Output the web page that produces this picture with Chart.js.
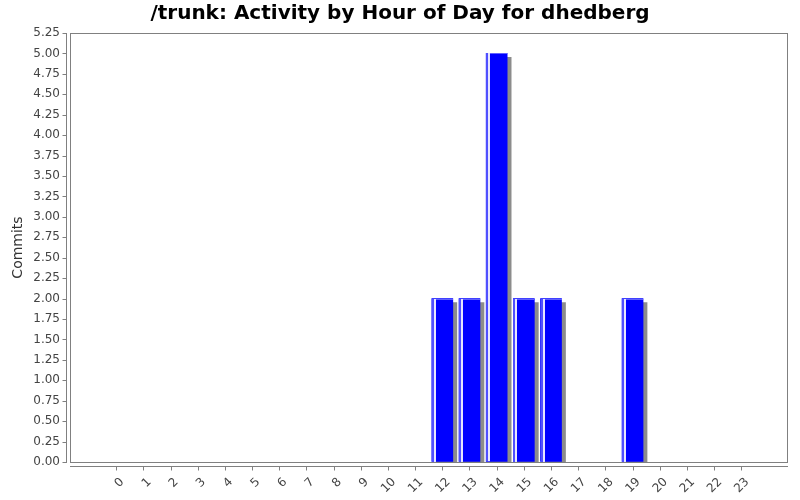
<!DOCTYPE html>
<html><head><meta charset="utf-8">
<script src="https://cdn.jsdelivr.net/npm/chart.js@4/dist/chart.umd.min.js"></script>
<style>html,body{margin:0;padding:0;background:#fff}canvas{display:block}</style>
</head><body>
<canvas id="c" width="800" height="500"></canvas>
<script>
const titleText = '/trunk: Activity by Hour of Day for dhedberg';
const yAxisTitle = 'Commits';
const hours = [0,1,2,3,4,5,6,7,8,9,10,11,12,13,14,15,16,17,18,19,20,21,22,23];
const commits = [0,0,0,0,0,0,0,0,0,0,0,0,2,2,5,2,2,0,0,2,0,0,0,0];
const yTickLabels = ['0.00','0.25','0.50','0.75','1.00','1.25','1.50','1.75','2.00','2.25','2.50','2.75','3.00','3.25','3.50','3.75','4.00','4.25','4.50','4.75','5.00','5.25'];

const AXIS = '#808080';
const LABEL = '#444444';
const FONT = "'DejaVu Sans', sans-serif";

const decor = {
  id: 'decor',
  beforeDatasetsDraw(chart) {
    const ctx = chart.ctx;
    ctx.save();
    ctx.shadowColor = 'rgb(140,140,140)';
    ctx.shadowOffsetX = 4;
    ctx.shadowOffsetY = 4;
    ctx.shadowBlur = 0;
  },
  afterDatasetsDraw(chart) {
    const ctx = chart.ctx;
    ctx.restore();
    const a = chart.chartArea;
    ctx.save();
    ctx.beginPath();
    ctx.rect(a.left, a.top, a.right - a.left, a.bottom - a.top);
    ctx.clip();
    const meta = chart.getDatasetMeta(0);
    meta.data.forEach((el, i) => {
      if (!commits[i]) return;
      const p = el.getProps(['x', 'y', 'base', 'width'], true);
      const left = Math.round(p.x - p.width / 2);
      const top = Math.round(p.y);
      const h = p.base - p.y;
      ctx.fillStyle = 'rgb(80,80,255)';
      ctx.fillRect(left, top, 2, h);
      ctx.fillStyle = 'rgba(255,255,255,0.9)';
      ctx.fillRect(left + 2, top, 2, h);
      ctx.fillStyle = 'rgba(120,120,255,0.8)';
      ctx.fillRect(left + 4, top, p.width - 4, 1);
    });
    ctx.restore();
  },
  afterDraw(chart) {
    const ctx = chart.ctx;
    const a = chart.chartArea;
    const x = chart.scales.x, y = chart.scales.y;
    ctx.save();
    ctx.strokeStyle = AXIS;
    ctx.lineWidth = 1;
    ctx.strokeRect(a.left + 0.5, a.top + 0.5, a.right - a.left - 1, a.bottom - a.top);
    const yl = a.left - 4 + 0.5;
    ctx.beginPath();
    ctx.moveTo(yl, a.top);
    ctx.lineTo(yl, a.bottom + 1);
    y.ticks.forEach(t => {
      const py = Math.round(y.getPixelForValue(t.value)) + 0.5;
      ctx.moveTo(yl - 4, py);
      ctx.lineTo(yl, py);
    });
    const xl = a.bottom + 4 + 0.5;
    ctx.moveTo(a.left, xl);
    ctx.lineTo(a.right, xl);
    x.ticks.forEach(t => {
      const px = Math.round(x.getPixelForValue(t.value)) + 0.5;
      ctx.moveTo(px, xl);
      ctx.lineTo(px, xl + 4);
    });
    ctx.stroke();
    ctx.fillStyle = '#000';
    ctx.font = "bold 20px " + FONT;
    ctx.textAlign = 'center';
    ctx.textBaseline = 'middle';
    ctx.fillText(titleText, chart.width / 2, 14);
    ctx.restore();
  }
};

new Chart(document.getElementById('c'), {
  type: 'bar',
  data: {
    datasets: [{
      label: yAxisTitle,
      data: hours.map((h, i) => ({ x: h, y: commits[i] })),
      backgroundColor: c => (c.raw && c.raw.y ? '#0000ff' : 'rgba(0,0,0,0)'),
      borderWidth: 0,
      barThickness: 21
    }]
  },
  options: {
    responsive: false,
    animation: false,
    devicePixelRatio: 1,
    layout: { padding: { left: 0, right: 12, top: 33, bottom: 0 } },
    plugins: {
      legend: { display: false },
      tooltip: { enabled: false },
      title: { display: false }
    },
    scales: {
      x: {
        type: 'linear',
        offset: false,
        min: -1.7,
        max: 24.72,
        afterBuildTicks: s => { s.ticks = hours.map(h => ({ value: h })); },
        afterFit: s => { s.height = 38; },
        grid: { display: true, offset: false, drawOnChartArea: false, drawTicks: false, color: 'rgba(0,0,0,0)' },
        border: { display: false },
        ticks: {
          autoSkip: false,
          minRotation: 45,
          maxRotation: 45,
          padding: 13,
          labelOffset: 6,
          color: LABEL,
          font: { family: FONT, size: 12 },
          callback: v => String(v)
        }
      },
      y: {
        min: 0,
        max: 5.25,
        afterBuildTicks: s => { s.ticks = yTickLabels.map(l => ({ value: parseFloat(l) })); },
        afterFit: s => { s.width = 70; },
        grid: { display: true, drawOnChartArea: false, drawTicks: false, color: 'rgba(0,0,0,0)' },
        border: { display: false },
        title: {
          display: true,
          text: yAxisTitle,
          color: '#333',
          font: { family: FONT, size: 14 },
          padding: { top: 10, bottom: 0 }
        },
        ticks: {
          padding: 10,
          color: LABEL,
          font: { family: FONT, size: 12 },
          callback: (v, i) => yTickLabels[i]
        }
      }
    }
  },
  plugins: [decor]
});
</script>
</body></html>
